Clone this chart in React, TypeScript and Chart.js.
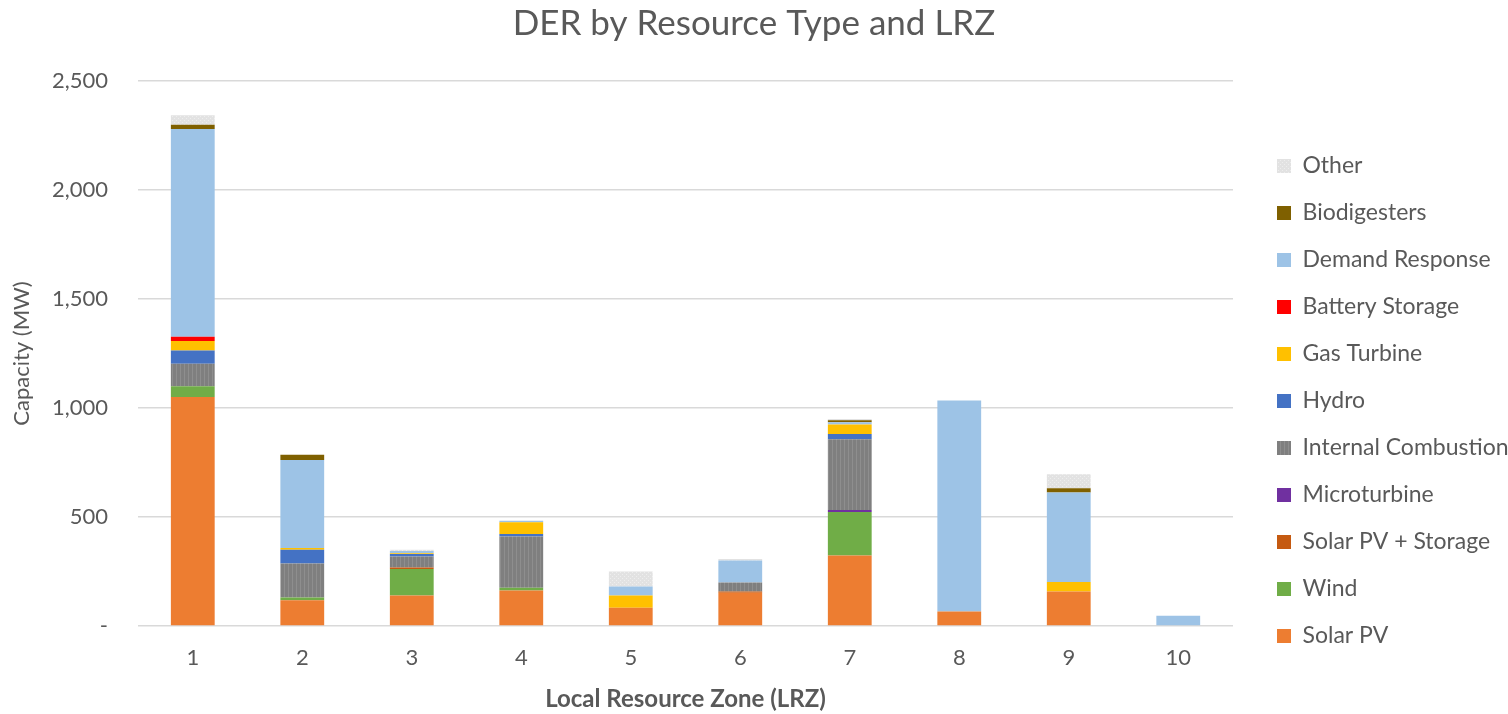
import { useEffect, useRef } from 'react';
import { Chart, registerables } from 'chart.js';

Chart.register(...registerables);

const zones = ['1', '2', '3', '4', '5', '6', '7', '8', '9', '10'];
const solarPV = [1050, 118, 140, 163, 84, 152, 323, 66, 158, 0];
const wind = [50, 13, 121, 13, 0, 0, 200, 0, 0, 0];
const solarPVStorage = [0, 0, 7, 0, 0, 6, 0, 0, 0, 0];
const microturbine = [0, 0, 0, 0, 0, 0, 9, 0, 0, 0];
const internalCombustion = [103, 156, 51, 234, 0, 41, 325, 0, 0, 0];
const hydro = [61, 63, 11, 12, 0, 0, 24, 0, 0, 0];
const gasTurbine = [43, 8, 4, 54, 56, 0, 43, 0, 44, 0];
const batteryStorage = [20, 0, 0, 0, 0, 0, 0, 0, 0, 0];
const demandResponse = [953, 404, 10, 7, 41, 102, 11, 968, 410, 47];
const biodigesters = [19, 23, 0, 0, 0, 0, 9, 0, 20, 0];
const other = [44, 0, 6, 0, 69, 6, 5, 0, 64, 0];
const yTicks = [0, 500, 1000, 1500, 2000, 2500];

const FONT = 'Lato, "Open Sans", sans-serif';
const TEXT = '#595959';

function makePattern(base: string, fg: string, kind: 'vlines' | 'dots'): CanvasPattern | string {
  const c = document.createElement('canvas');
  c.width = 4;
  c.height = 4;
  const g = c.getContext('2d');
  if (!g) return base;
  g.fillStyle = base;
  g.fillRect(0, 0, 4, 4);
  g.fillStyle = fg;
  if (kind === 'vlines') {
    g.fillRect(0, 0, 1, 4);
  } else {
    g.fillRect(0, 0, 1, 1);
    g.fillRect(2, 2, 1, 1);
  }
  const p = g.createPattern(c, 'repeat');
  return p || base;
}

export default function App() {
  const ref = useRef<HTMLCanvasElement | null>(null);

  useEffect(() => {
    if (!ref.current) return;
    const icFill = makePattern('#7f7f7f', '#8e8e8e', 'vlines');
    const otherFill = makePattern('#e2e2e2', '#eeeeee', 'dots');

    const series: [string, number[], any][] = [
      ['Solar PV', solarPV, '#ED7D31'],
      ['Wind', wind, '#70AD47'],
      ['Solar PV + Storage', solarPVStorage, '#C55A11'],
      ['Microturbine', microturbine, '#7030A0'],
      ['Internal Combustion', internalCombustion, icFill],
      ['Hydro', hydro, '#4472C4'],
      ['Gas Turbine', gasTurbine, '#FFC000'],
      ['Battery Storage', batteryStorage, '#FF0000'],
      ['Demand Response', demandResponse, '#9DC3E6'],
      ['Biodigesters', biodigesters, '#7F6000'],
      ['Other', other, otherFill],
    ];

    const chart = new Chart(ref.current, {
      type: 'bar',
      data: {
        labels: zones,
        datasets: series.map(([label, data, color]) => ({
          label,
          data,
          backgroundColor: color,
          borderWidth: 0,
          barPercentage: 0.4,
          categoryPercentage: 1,
        })),
      },
      options: {
        animation: false,
        responsive: false,
        maintainAspectRatio: false,
        layout: { padding: 0 },
        plugins: {
          tooltip: { enabled: false },
          title: {
            display: true,
            text: 'DER by Resource Type and LRZ',
            color: TEXT,
            font: { family: FONT, size: 35, weight: 'normal', lineHeight: 1.2 },
            padding: { top: 3, bottom: 36 },
          },
          legend: {
            display: true,
            position: 'right',
            reverse: true,
            align: 'center',
            maxWidth: 255,
            title: {
              display: true,
              text: '',
              font: { family: FONT, size: 10, lineHeight: 1.2 },
              padding: { top: 38, bottom: 38 },
            },
            labels: {
              color: TEXT,
              font: { family: FONT, size: 23 },
              boxWidth: 14,
              boxHeight: 14,
              padding: 24,
            },
          },
        },
        scales: {
          x: {
            stacked: true,
            grid: { display: false, drawTicks: false },
            border: { display: false },
            ticks: {
              color: TEXT,
              font: { family: FONT, size: 22, lineHeight: 1.2 },
              padding: 18.8,
            },
            title: {
              display: true,
              text: 'Local Resource Zone (LRZ)',
              color: TEXT,
              font: { family: FONT, size: 24, weight: 'bold', lineHeight: 1.2 },
              padding: { top: -4.8, bottom: 0 },
            },
          },
          y: {
            stacked: true,
            min: 0,
            max: 2500,
            afterBuildTicks: (s: any) => {
              s.ticks = yTicks.map((v) => ({ value: v }));
            },
            grid: { color: '#d9d9d9', lineWidth: 1.5, drawTicks: false },
            border: { display: false },
            ticks: {
              color: TEXT,
              font: { family: FONT, size: 22, lineHeight: 1.2 },
              padding: 30,
              callback: (v: any) => (Number(v) === 0 ? '-' : Number(v).toLocaleString('en-US')),
            },
            title: {
              display: true,
              text: 'Capacity (MW)',
              color: TEXT,
              font: { family: FONT, size: 22, weight: 'normal', lineHeight: 1.2 },
              padding: { top: 8.8, bottom: -13.2 },
            },
          },
          gap: {
            type: 'linear',
            position: 'right',
            display: true,
            grid: { display: false },
            border: { display: false },
            ticks: { display: false },
            afterFit: (s: any) => {
              s.width = 20;
            },
          },
        },
      },
    } as any);

    return () => chart.destroy();
  }, []);

  return (
    <div style={{ position: 'fixed', left: 0, top: 0, width: 1508, height: 714, background: '#fff' }}>
      <canvas ref={ref} width={1508} height={714} style={{ display: 'block', width: 1508, height: 714 }} />
    </div>
  );
}
